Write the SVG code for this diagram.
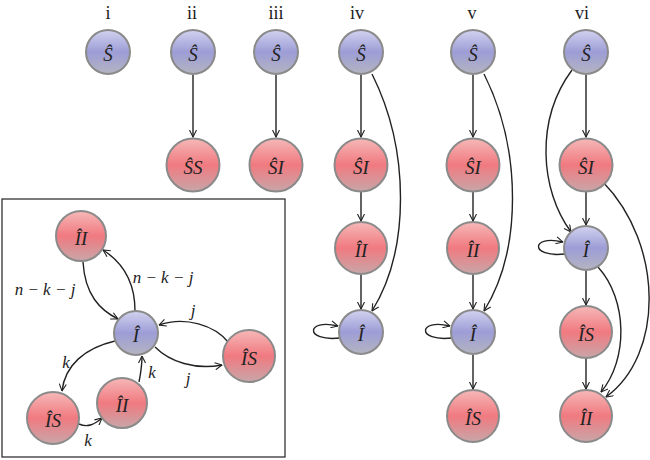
<svg xmlns="http://www.w3.org/2000/svg" width="650" height="460" viewBox="0 0 650 460">
<defs>
<linearGradient id="gb" x1="0" y1="0" x2="0" y2="1">
<stop offset="0" stop-color="#d2d2f0"/>
<stop offset="0.5" stop-color="#9d9dd6"/>
<stop offset="1" stop-color="#b4b4c2"/>
</linearGradient>
<linearGradient id="gr" x1="0" y1="0" x2="0" y2="1">
<stop offset="0" stop-color="#f6b8b8"/>
<stop offset="0.5" stop-color="#f07a80"/>
<stop offset="1" stop-color="#c8a6a8"/>
</linearGradient>
<marker id="ah" viewBox="0 0 8 8" refX="7.5" refY="4" markerWidth="8" markerHeight="8" markerUnits="userSpaceOnUse" orient="auto">
<path d="M0.5,0.5 L7.5,4 L0.5,7.5" fill="none" stroke="#222" stroke-width="1.1"/>
</marker>
<style>
.b{fill:url(#gb);stroke:#8a8a8a;stroke-width:2}
.r{fill:url(#gr);stroke:#8a8a8a;stroke-width:2}
text{fill:#222;text-anchor:middle}
.t{font-style:italic;font-size:19px}
.h{font-size:18px}
.l{font-style:italic;font-size:17px}
.e{fill:none;stroke:#222;stroke-width:1.4;marker-end:url(#ah)}
</style>
</defs>
<rect width="650" height="460" fill="#fff"/>
<g id="headers" font-family="Liberation Serif, Times New Roman, serif">
<text class="h" x="108" y="19">i</text>
<text class="h" x="192" y="19">ii</text>
<text class="h" x="276" y="19">iii</text>
<text class="h" x="357" y="19">iv</text>
<text class="h" x="472" y="19">v</text>
<text class="h" x="582" y="19">vi</text>
</g>
<rect id="inset" x="2" y="199" width="283" height="258" fill="none" stroke="#333" stroke-width="1.3"/>
<g id="connectors">
<path class="e" d="M193,75 L193,137"/>
<path class="e" d="M276,75 L276,137"/>
<path class="e" d="M361,75 L361,137"/>
<path class="e" d="M361,192 L361,221"/>
<path class="e" d="M361,275 L361,309"/>
<path class="e" d="M372,74 C410,150 410,250 372,311"/>
<path class="e" d="M340,338 C304,342 306,318 338,326"/>
<path class="e" d="M473,75 L473,137"/>
<path class="e" d="M473,192 L473,221"/>
<path class="e" d="M473,275 L473,309"/>
<path class="e" d="M484,74 C522,150 522,250 484,311"/>
<path class="e" d="M452,338 C416,342 418,318 450,326"/>
<path class="e" d="M473,355 L473,389"/>
<path class="e" d="M586,75 L586,137"/>
<path class="e" d="M572,70 C535,120 540,190 571,232"/>
<path class="e" d="M586,192 L586,225"/>
<path class="e" d="M565,254 C529,258 531,234 563,242"/>
<path class="e" d="M586,271 L586,305"/>
<path class="e" d="M586,359 L586,389"/>
<path class="e" d="M598,267 C628,300 628,360 601,392"/>
<path class="e" d="M603,182 C664,245 664,355 606,397"/>
<path class="e" d="M83,262 C85,295 100,310 118,319"/>
<path class="e" d="M135,311 C135,280 122,262 103,250"/>
<path class="e" d="M229,343 C215,325 185,316 159,325"/>
<path class="e" d="M155,347 C170,362 195,370 222,365"/>
<path class="e" d="M115,341 C85,348 65,365 62,391"/>
<path class="e" d="M139,382 C141,372 142,365 142,356"/>
<path class="e" d="M79,424 C88,428 95,424 102,418"/>
</g>
<g id="edge-labels" font-family="Liberation Serif, Times New Roman, serif">
<text class="l" x="45" y="295">n − k − j</text>
<text class="l" x="163" y="283">n − k − j</text>
<text class="l" x="193" y="316">j</text>
<text class="l" x="188" y="384">j</text>
<text class="l" x="66" y="368">k</text>
<text class="l" x="152" y="378">k</text>
<text class="l" x="88" y="446">k</text>
</g>
<g font-family="Liberation Serif, Times New Roman, serif">
<g id="n-i-S"><circle class="b" cx="108" cy="52" r="22"/><text class="t" x="108" y="61">Ŝ</text></g>
<g id="n-ii-S"><circle class="b" cx="193" cy="52" r="22"/><text class="t" x="193" y="61">Ŝ</text></g>
<g id="n-ii-SS"><circle class="r" cx="193" cy="165" r="26.5"/><text class="t" x="193" y="174">ŜS</text></g>
<g id="n-iii-S"><circle class="b" cx="276" cy="52" r="22"/><text class="t" x="276" y="61">Ŝ</text></g>
<g id="n-iii-SI"><circle class="r" cx="276" cy="165" r="26.5"/><text class="t" x="276" y="174">ŜI</text></g>
<g id="n-iv-S"><circle class="b" cx="361" cy="52" r="22"/><text class="t" x="361" y="61">Ŝ</text></g>
<g id="n-iv-SI"><circle class="r" cx="361" cy="165" r="26.5"/><text class="t" x="361" y="174">ŜI</text></g>
<g id="n-iv-II"><circle class="r" cx="361" cy="248" r="26"/><text class="t" x="361" y="257">ÎI</text></g>
<g id="n-iv-I"><circle class="b" cx="361" cy="332" r="22"/><text class="t" x="361" y="341">Î</text></g>
<g id="n-v-S"><circle class="b" cx="473" cy="52" r="22"/><text class="t" x="473" y="61">Ŝ</text></g>
<g id="n-v-SI"><circle class="r" cx="473" cy="165" r="26.5"/><text class="t" x="473" y="174">ŜI</text></g>
<g id="n-v-II"><circle class="r" cx="473" cy="248" r="26"/><text class="t" x="473" y="257">ÎI</text></g>
<g id="n-v-I"><circle class="b" cx="473" cy="332" r="22"/><text class="t" x="473" y="341">Î</text></g>
<g id="n-v-IS"><circle class="r" cx="473" cy="416" r="26"/><text class="t" x="473" y="425">ÎS</text></g>
<g id="n-vi-S"><circle class="b" cx="586" cy="52" r="22"/><text class="t" x="586" y="61">Ŝ</text></g>
<g id="n-vi-SI"><circle class="r" cx="586" cy="165" r="26.5"/><text class="t" x="586" y="174">ŜI</text></g>
<g id="n-vi-I"><circle class="b" cx="586" cy="248" r="22"/><text class="t" x="586" y="257">Î</text></g>
<g id="n-vi-IS"><circle class="r" cx="586" cy="332" r="26"/><text class="t" x="586" y="341">ÎS</text></g>
<g id="n-vi-II"><circle class="r" cx="586" cy="416" r="26"/><text class="t" x="586" y="425">ÎI</text></g>
<g id="n-in-IItop"><circle class="r" cx="81" cy="236" r="25"/><text class="t" x="81" y="245">ÎI</text></g>
<g id="n-in-I"><circle class="b" cx="136" cy="333" r="22"/><text class="t" x="136" y="342">Î</text></g>
<g id="n-in-ISright"><circle class="r" cx="249" cy="356" r="26"/><text class="t" x="249" y="365">ÎS</text></g>
<g id="n-in-ISleft"><circle class="r" cx="53" cy="418" r="26"/><text class="t" x="53" y="427">ÎS</text></g>
<g id="n-in-IIbottom"><circle class="r" cx="122" cy="403" r="25"/><text class="t" x="122" y="412">ÎI</text></g>
</g>
</svg>
